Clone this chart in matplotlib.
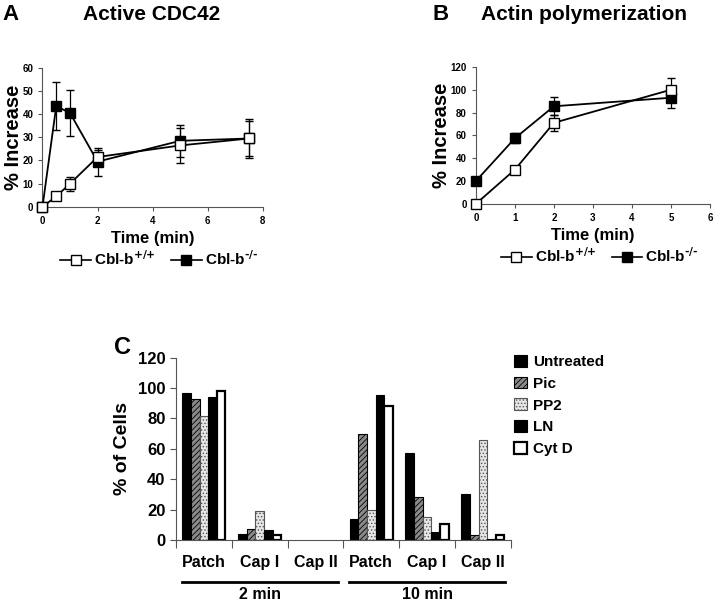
import numpy as np
import matplotlib.pyplot as plt
from matplotlib.lines import Line2D

plt.rcParams['font.family'] = ['Liberation Sans', 'DejaVu Sans']
plt.rcParams['font.weight'] = 'bold'
plt.rcParams['mathtext.default'] = 'bf'
plt.rcParams['hatch.linewidth'] = 0.6

# Panel A: active CDC42
a_time = [0, 0.5, 1, 2, 5, 7.5]
a_wt = [0, 4.5, 10, 21.5, 26.5, 29.5]
a_wt_err = [0, 0, 3, 3, 7.5, 7.5]
a_ko = [0, 43.5, 40.5, 19.5, 28.5, 29.5]
a_ko_err = [0, 10.5, 10, 6, 7, 8.5]

# Panel B: actin polymerization
b_time = [0, 1, 2, 5]
b_wt = [0, 30, 71, 100]
b_wt_err = [0, 0, 7, 10]
b_ko = [20, 57.5, 85.5, 93]
b_ko_err = [0, 4.5, 8, 9]

# Panel C: % of cells
groups = ['Patch', 'Cap I', 'Cap II', 'Patch', 'Cap I', 'Cap II']
treatments = ['Untreated', 'Pic', 'PP2', 'LN', 'Cyt D']
untreated = [97, 4, 0, 14, 57.5, 30]
pic = [93, 7, 0, 70, 28, 3]
pp2 = [81.5, 19, 0, 20, 15, 66]
ln = [94, 6.5, 0, 95.5, 5, 0.5]
cytd = [98, 3, 0, 88, 10.5, 3]
time_labels = ['2 min', '10 min']

fig = plt.figure(figsize=(7.2, 6.03), dpi=100)


def line_panel(ax, t, wt, wt_err, ko, ko_err):
    for vals, err, fc, z in [(ko, ko_err, 'black', 3), (wt, wt_err, 'white', 4)]:
        parts = ax.errorbar(t, vals, yerr=err, color='black', lw=1.3, marker='s', ms=6.5,
                            mfc=fc, mec='black', capsize=3, elinewidth=0.9, zorder=z)
        for art in parts.lines[0:1] + tuple(parts.lines[1]) + tuple(parts.lines[2]):
            art.set_clip_on(False)
    for s in ['top', 'right']:
        ax.spines[s].set_visible(False)
    ax.spines['left'].set_color('#555555')
    ax.spines['bottom'].set_color('#555555')
    ax.tick_params(labelsize=7, length=3, color='#555555')
    ax.set_xlabel('Time (min)', fontsize=12, fontweight='bold')
    ax.set_ylabel('% Increase', fontsize=14.5, fontweight='bold', labelpad=0)
    h1 = Line2D([], [], color='black', lw=1.2, marker='s', ms=7, mfc='white', mec='black')
    h2 = Line2D([], [], color='black', lw=1.2, marker='s', ms=7, mfc='black', mec='black')
    ax.legend([h1, h2], [r'Cbl-b$^{\text{+/+}}$', r'Cbl-b$^{\text{-/-}}$'], ncol=2,
              frameon=False, loc='upper center', bbox_to_anchor=(0.53, -0.21),
              handlelength=2.0, handletextpad=0.2, columnspacing=1.0,
              prop={'weight': 'bold', 'size': 11})


axA = fig.add_axes([0.059, 0.657, 0.306, 0.2305])
line_panel(axA, a_time, a_wt, a_wt_err, a_ko, a_ko_err)
axA.set_xlim(0, 8)
axA.set_ylim(0, 60)
axA.set_xticks([0, 2, 4, 6, 8])
axA.set_yticks(np.arange(0, 61, 10))

axB = fig.add_axes([0.661, 0.662, 0.325, 0.227])
line_panel(axB, b_time, b_wt, b_wt_err, b_ko, b_ko_err)
axB.set_xlim(0, 6)
axB.set_ylim(0, 120)
axB.set_xticks(range(7))
axB.set_yticks(np.arange(0, 121, 20))

fig.text(0.004, 0.976, 'A', fontsize=16, fontweight='bold', va='center')
fig.text(0.115, 0.976, 'Active CDC42', fontsize=15, fontweight='bold', va='center')
fig.text(0.601, 0.976, 'B', fontsize=16, fontweight='bold', va='center')
fig.text(0.668, 0.976, 'Actin polymerization', fontsize=15, fontweight='bold', va='center')

# Panel C
axC = fig.add_axes([0.2444, 0.1045, 0.465, 0.3025])
x = np.arange(len(groups))
w = 0.155
styles = [
    dict(color='black', edgecolor='black'),
    dict(color='#8a8a8a', edgecolor='black', hatch='//////'),
    dict(color='#e6e6e6', edgecolor='#555555', hatch='.....'),
    dict(color='black', edgecolor='black'),
    dict(color='white', edgecolor='black', linewidth=1.6),
]
series = [untreated, pic, pp2, ln, cytd]
for i, (vals, st) in enumerate(zip(series, styles)):
    kw = dict(st)
    lw = kw.pop('linewidth', 0.8)
    lws = [lw if v > 0 else 0 for v in vals]
    axC.bar(x + (i - 2) * w, vals, w, label=treatments[i], linewidth=lws, **kw)

axC.set_xlim(-0.5, len(groups) - 0.5)
axC.set_ylim(0, 120)
axC.set_yticks(np.arange(0, 121, 20))
axC.set_xticks(np.arange(-0.5, len(groups), 1.0))
axC.set_xticklabels([])
axC.tick_params(axis='x', length=6, direction='out', color='#555555')
axC.tick_params(axis='y', labelsize=12, length=4, color='#555555')
for s in ['top', 'right']:
    axC.spines[s].set_visible(False)
axC.spines['left'].set_color('#555555')
axC.spines['bottom'].set_color('#555555')
axC.set_ylabel('% of Cells', fontsize=14, fontweight='bold', labelpad=5)

for xi, g in zip(x, groups):
    axC.text(xi, -0.125, g, transform=axC.get_xaxis_transform(), ha='center',
             va='center', fontsize=11.5, fontweight='bold')
for k, lab in enumerate(time_labels):
    x0 = 3 * k - 0.4
    x1 = 3 * k + 2.4
    axC.plot([x0, x1], [-0.23, -0.23], transform=axC.get_xaxis_transform(),
             color='black', lw=2, clip_on=False)
    axC.text(3 * k + 1, -0.3, lab, transform=axC.get_xaxis_transform(),
             ha='center', va='center', fontsize=11.5, fontweight='bold')

axC.legend(loc='upper left', bbox_to_anchor=(0.97, 1.09), frameon=False,
           handlelength=0.8, handleheight=0.8, handletextpad=0.4,
           labelspacing=0.5, prop={'weight': 'bold', 'size': 11})

fig.text(0.158, 0.423, 'C', fontsize=17, fontweight='bold', va='center')

fig.savefig('out.png', dpi=100)
